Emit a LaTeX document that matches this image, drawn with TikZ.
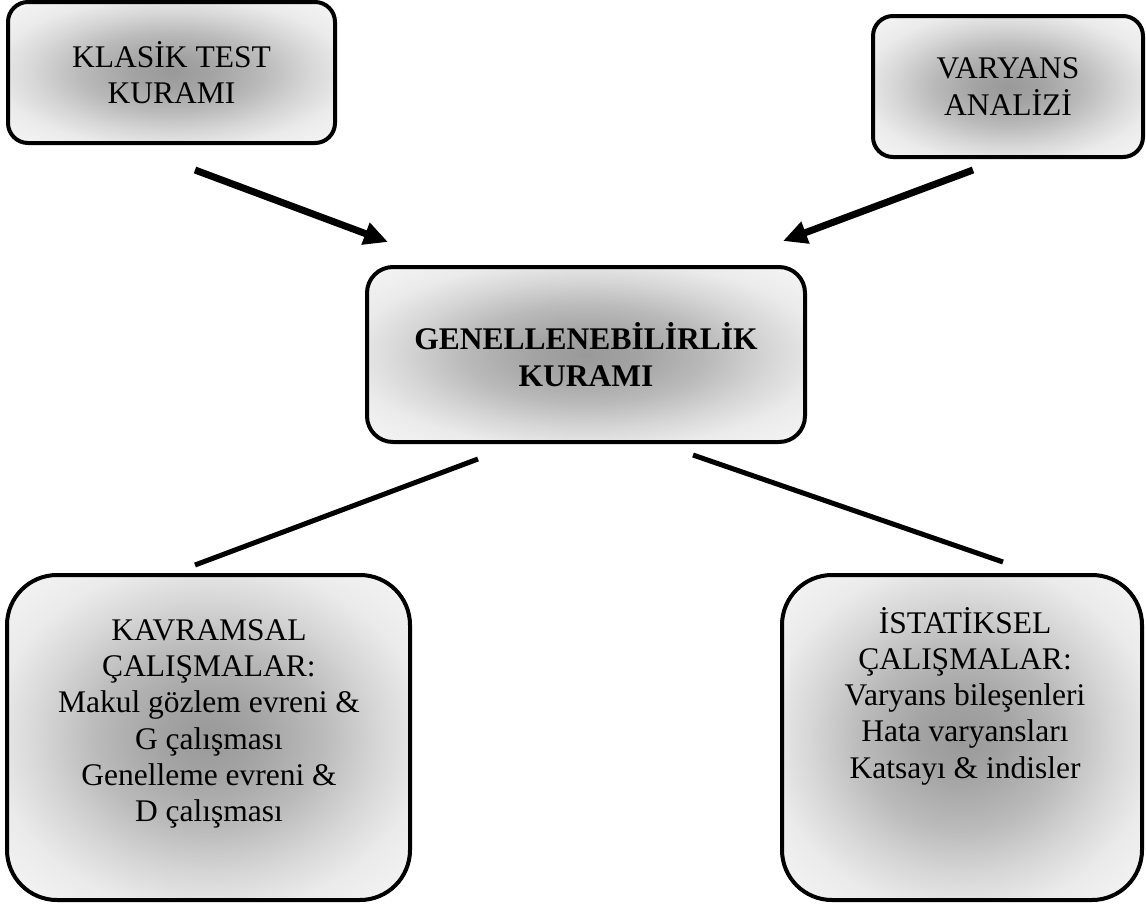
\documentclass[tikz,border=0pt]{standalone}
\usepackage{fontspec}
\setmainfont{Liberation Serif}
\usetikzlibrary{arrows.meta}
\pgfdeclareradialshading{boxshade}{\pgfpoint{0bp}{0bp}}{color(0bp)=(black!40); color(6bp)=(black!36); color(14bp)=(black!27); color(21bp)=(black!16); color(27bp)=(black!8); color(35bp)=(black!4); color(50bp)=(black!4)}
\begin{document}
\begin{tikzpicture}[x=1pt,y=-1pt,
  box/.style={draw=black, line width=4pt, shading=boxshade, inner sep=0pt, align=center,
    font=\fontsize{31.5}{36.3}\selectfont},
  txt/.style={inner sep=0pt, align=center, font=\fontsize{31.5}{36.3}\selectfont},
  arr/.style={line width=7pt, -{Triangle[length=24pt,width=22pt]}},
  link/.style={line width=5pt}]
\useasboundingbox (0,0) rectangle (1146,903);
\node[box, rounded corners=20pt, minimum width=327pt, minimum height=141pt] (kt) at (171.5,72.5) {KLASİK TEST\\KURAMI};
\node[box, rounded corners=20pt, minimum width=270pt, minimum height=141pt] (va) at (1008,86.5) {\raisebox{-3pt}{VARYANS}\\\raisebox{-3pt}{ANALİZİ}};
\node[box, rounded corners=26pt, minimum width=438pt, minimum height=175pt, font=\fontsize{31.5}{37}\selectfont\bfseries] (gk) at (586,354.5) {GENELLENEBİLİRLİK\\KURAMI};
\node[box, rounded corners=50pt, minimum width=403pt, minimum height=325pt] (kv) at (208.5,737.5) {};
\node[box, rounded corners=50pt, minimum width=360pt, minimum height=325pt] (is) at (962,737.5) {};
\node[txt] (kvt) at (209,724) {KAVRAMSAL\\ÇALIŞMALAR:\\Makul gözlem evreni \&\\G çalışması\\Genelleme evreni \&\\D çalışması};
\node[txt] (ist) at (965,696) {İSTATİKSEL\\ÇALIŞMALAR:\\Varyans bileşenleri\\Hata varyansları\\Katsayı \& indisler};
\coordinate (a1s) at (195,170);
\coordinate (a1e) at (388,242);
\coordinate (a2s) at (973,170);
\coordinate (a2e) at (783,241);
\coordinate (l1s) at (478,459);
\coordinate (l1e) at (195,565);
\coordinate (l2s) at (693,455);
\coordinate (l2e) at (1003,562);
\draw[arr] (a1s) -- (a1e);
\draw[arr] (a2s) -- (a2e);
\draw[link] (l1s) -- (l1e);
\draw[link] (l2s) -- (l2e);
\end{tikzpicture}
\end{document}
